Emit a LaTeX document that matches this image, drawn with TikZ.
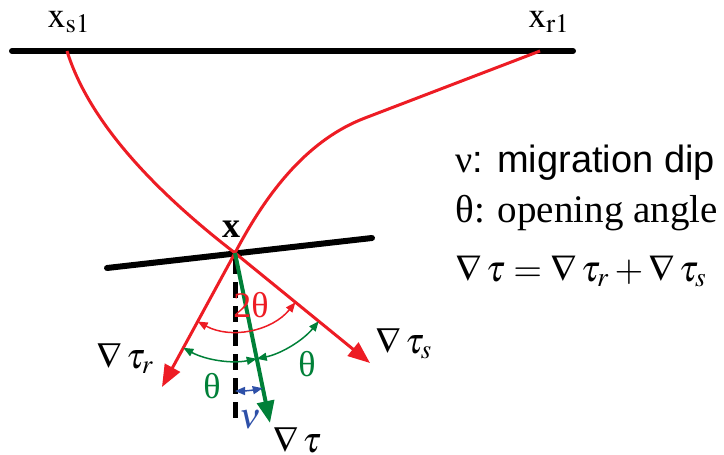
\documentclass[tikz,border=0pt]{standalone}
\usepackage{mathptmx}
\usepackage{fontspec}
\setmainfont{Liberation Serif}
\newfontfamily\arialfont{Liberation Sans}
\usetikzlibrary{arrows.meta}
\definecolor{rayred}{RGB}{237,28,36}
\definecolor{dipgreen}{RGB}{0,128,56}
\definecolor{dipblue}{RGB}{46,80,168}
\tikzset{
  layer/.style={line width=3pt,line cap=round},
  ray/.style={rayred,line width=1.5pt},
  grad/.style={-{Triangle[length=11pt,width=8.5pt]}},
  anglemark/.style={line width=0.75pt,{Triangle[length=5pt,width=4pt]}-{Triangle[length=5pt,width=4pt]}},
  lbl/.style={font=\fontsize{18}{21}\selectfont},
}

\begin{document}
\begin{tikzpicture}[x=0.5pt,y=-0.5pt]
  \useasboundingbox (0,0) rectangle (724,455);
  % Surface and reflector
  \coordinate (sL) at (12,51); \coordinate (sR) at (573,51);
  \coordinate (S) at (67,51); \coordinate (R) at (540,51);
  \coordinate (X) at (235,253);
  \coordinate (refL) at (107,268); \coordinate (refR) at (372,238);
  \draw[layer] (sL) -- (sR);
  \draw[layer] (refL) -- (refR);
  \node[lbl] (xs) at (69,22) {$\mathrm{x}_{\mathrm{s1}}$};
  \node[lbl] (xr) at (549,22) {$\mathrm{x}_{\mathrm{r1}}$};
  \node[lbl,font=\fontsize{18}{21}\selectfont\bfseries] (xlbl) at (231,229) {x};
  % Vertical
  \coordinate (vtop) at (235,258); \coordinate (vbot) at (235,420);
  \draw[line width=2.5pt,dash pattern=on 8pt off 4pt] (vtop) -- (vbot);
  % Rays
  \coordinate (bendR) at (365,118);
  \draw[ray] (S) .. controls (90,125) and (160,195) .. (X);
  \draw[ray] (R) -- (bendR) .. controls (310,139) and (269,188) .. (X);
  % Gradients
  \coordinate (ts) at (370,363); \coordinate (tr) at (162,387); \coordinate (t) at (270,423);
  \draw[ray,grad] (X) -- (ts);
  \draw[ray,grad] (X) -- (tr);
  \draw[dipgreen,line width=2pt,grad] (X) -- (t);
  % Angles
  \draw[anglemark,rayred] ([shift={(118.6:78)}]X) arc[start angle=118.6,end angle=39.2,radius=78];
  \draw[anglemark,dipgreen] ([shift={(118.6:108)}]X) arc[start angle=118.6,end angle=78.4,radius=108];
  \draw[anglemark,dipgreen] ([shift={(78.4:108)}]X) arc[start angle=78.4,end angle=39.2,radius=108];
  \draw[anglemark,dipblue] ([shift={(90:138)}]X) arc[start angle=90,end angle=78.4,radius=138];
  \node[lbl,rayred] (two) at (251,305) {2θ};
  \node[lbl,dipgreen] (thl) at (212,386) {θ};
  \node[lbl,dipgreen] (thr) at (307,364) {θ};
  \node[lbl,dipblue] (nu) at (250,420) {$\nu$};
  \node[lbl] (gt) at (297,440) {$\nabla\,\tau$};
  \node[lbl,anchor=base west,inner sep=0pt] (gtr) at (96,368) {$\nabla\,\tau_r$};
  \node[lbl,anchor=base west,inner sep=0pt] (gts) at (375,353) {$\nabla\,\tau_s$};
  % Legend
  \node[anchor=base west,inner sep=0pt,font=\fontsize{19}{22}\selectfont] (l1) at (455,172) {ν\arialfont: migration dip};
  \node[anchor=base west,inner sep=0pt,font=\fontsize{19.5}{22}\selectfont] (l2) at (455,222) {θ: opening angle};
  \node[anchor=base west,inner sep=0pt,font=\fontsize{18.5}{22}\selectfont] (l3) at (455,281) {$\nabla\,\tau=\nabla\,\tau_r+\nabla\,\tau_s$};
\end{tikzpicture}
\end{document}
